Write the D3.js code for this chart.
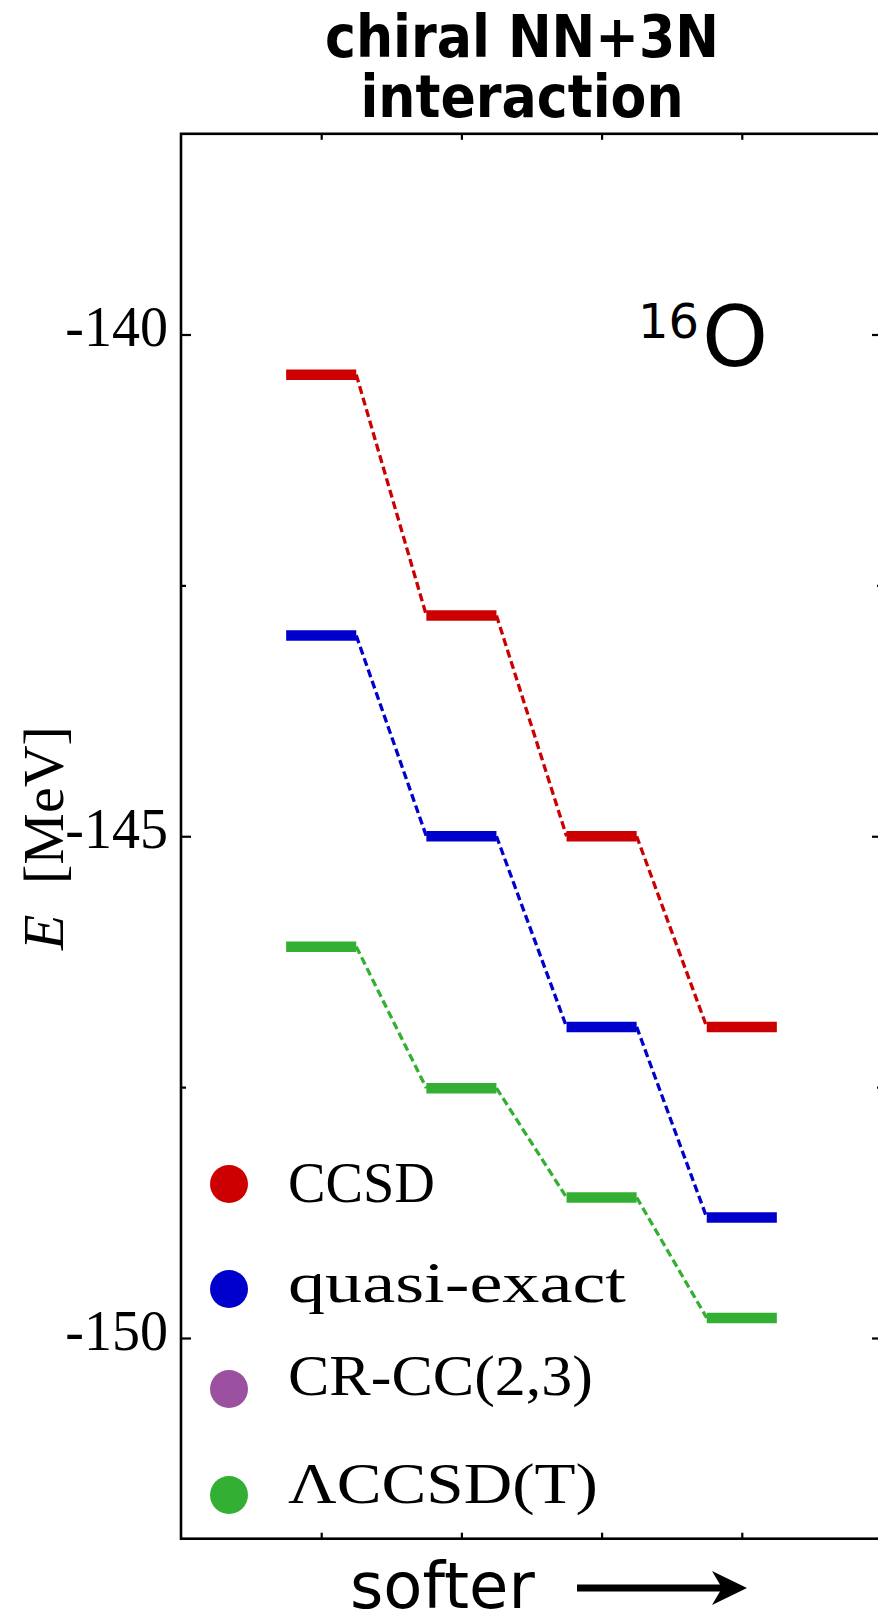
<!DOCTYPE html>
<html>
  <head>
    <title></title>
    <style type="text/css">
        html, body{
            padding: 0px;
            margin: 0px;
            background: #ffffff;
        }
        #vis{
            position: absolute;
            top: 0px;
            left: 0px;
        }
    </style>
  </head>
  <body>
    <div id="vis"></div>
    <script src="https://cdnjs.cloudflare.com/ajax/libs/d3/7.8.5/d3.min.js"></script>
    <script type="text/javascript">

        // data
        var steps = [1, 2, 3, 4]
        var ccsd = [-140.40, -142.80, -145.00, -146.90]
        var quasiExact = [-143.00, -145.00, -146.90, -148.80]
        var lccsdT = [-146.10, -147.51, -148.60, -149.80]

        var majorTicks = [-150, -145, -140]
        var minorTicks = [-147.5, -142.5]

        var seriesNames = ["CCSD", "quasi-exact", "CR-CC(2,3)", "ΛCCSD(T)"]
        var seriesColors = ["#cc0000", "#0000cc", "#9b50a0", "#33b033"]

        var series = [
            {values: ccsd, color: seriesColors[0]},
            {values: quasiExact, color: seriesColors[1]},
            {values: lccsdT, color: seriesColors[3]}
        ]

        var width = 878,
            height = 1615;

        var svg = d3.select("#vis").append("svg")
            .attr("width", width)
            .attr("height", height);

        svg.append("rect")
            .attr("width", width)
            .attr("height", height)
            .attr("fill", "#ffffff");

        var x = d3.scaleLinear().domain([0, 5]).range([181, 882]);
        var y = d3.scaleLinear().domain([-152, -138]).range([1538.7, 133.8]);

        var halfWidth = 0.25;

        // title
        var title = svg.append("text")
            .attr("text-anchor", "middle")
            .attr("font-family", "'DejaVu Sans Condensed', 'DejaVu Sans', sans-serif")
            .attr("font-stretch", "condensed")
            .attr("font-weight", "bold")
            .attr("font-size", 58);
        title.append("tspan").attr("x", 522).attr("y", 57).text("chiral NN+3N");
        title.append("tspan").attr("x", 522).attr("y", 117).text("interaction");

        // axes
        var tickStyle = function(g){
            g.select(".domain").remove();
            g.selectAll("line").attr("stroke", "#000").attr("stroke-width", 2.2);
        }

        svg.append("g")
            .attr("transform", "translate(" + x(0) + ",0)")
            .call(d3.axisLeft(y).tickValues(majorTicks).tickSize(-10).tickPadding(13)
                .tickFormat(function(d){ return String(d); }))
            .call(tickStyle)
            .call(function(g){
                g.selectAll("text")
                    .attr("font-family", "'Liberation Serif', 'Times New Roman', serif")
                    .attr("font-size", 56)
                    .attr("fill", "#000")
                    .attr("dy", "0.2em");
            });

        svg.append("g")
            .attr("transform", "translate(" + x(0) + ",0)")
            .call(d3.axisLeft(y).tickValues(minorTicks).tickSize(-5).tickFormat(""))
            .call(tickStyle);

        svg.append("g")
            .attr("transform", "translate(" + x(5) + ",0)")
            .call(d3.axisRight(y).tickValues(majorTicks).tickSize(-10).tickFormat(""))
            .call(tickStyle);

        svg.append("g")
            .attr("transform", "translate(" + x(5) + ",0)")
            .call(d3.axisRight(y).tickValues(minorTicks).tickSize(-5).tickFormat(""))
            .call(tickStyle);

        svg.append("g")
            .attr("transform", "translate(0," + y(-152) + ")")
            .call(d3.axisBottom(x).tickValues(steps).tickSize(-6).tickFormat(""))
            .call(tickStyle);

        svg.append("g")
            .attr("transform", "translate(0," + y(-138) + ")")
            .call(d3.axisTop(x).tickValues(steps).tickSize(-6).tickFormat(""))
            .call(tickStyle);

        // frame
        svg.append("rect")
            .attr("x", x(0))
            .attr("y", y(-138))
            .attr("width", x(5) - x(0))
            .attr("height", y(-152) - y(-138))
            .attr("fill", "none")
            .attr("stroke", "#000")
            .attr("stroke-width", 2.6);

        // dashed connectors, then levels
        series.forEach(function(s){
            var g = svg.append("g");
            for(var i=0; i<s.values.length-1; i++){
                g.append("line")
                    .attr("x1", x(steps[i] + halfWidth))
                    .attr("y1", y(s.values[i]))
                    .attr("x2", x(steps[i+1] - halfWidth))
                    .attr("y2", y(s.values[i+1]))
                    .attr("stroke", s.color)
                    .attr("stroke-width", 3.3)
                    .attr("stroke-dasharray", "8,4");
            }
            g.selectAll("line.level")
                .data(s.values)
                .enter().append("line")
                .attr("class", "level")
                .attr("x1", function(d, i){ return x(steps[i] - halfWidth); })
                .attr("x2", function(d, i){ return x(steps[i] + halfWidth); })
                .attr("y1", function(d){ return y(d); })
                .attr("y2", function(d){ return y(d); })
                .attr("stroke", s.color)
                .attr("stroke-width", 10.5);
        });

        // nucleus label
        var nuc = svg.append("text")
            .attr("x", 638)
            .attr("y", 338)
            .attr("font-family", "'DejaVu Sans', sans-serif")
            .attr("fill", "#000");
        nuc.append("tspan").attr("font-size", 48).text("16");
        nuc.append("tspan").attr("font-size", 84).attr("dx", 3).attr("dy", 28).text("O");

        // y label
        var ylab = svg.append("text")
            .attr("transform", "translate(63,838) rotate(-90)")
            .attr("text-anchor", "middle")
            .attr("font-family", "'Liberation Serif', 'Times New Roman', serif")
            .attr("font-size", 58)
            .attr("fill", "#000");
        ylab.append("tspan").attr("font-style", "italic").text("E");
        ylab.append("tspan").attr("dx", 16).text(" [MeV]");

        // legend
        var legendY = [1184, 1289, 1389, 1495];
        var legend = svg.append("g");
        legend.selectAll("circle")
            .data(seriesNames)
            .enter().append("circle")
            .attr("cx", 229)
            .attr("cy", function(d, i){ return legendY[i]; })
            .attr("r", 19)
            .attr("fill", function(d, i){ return seriesColors[i]; });

        var legendBase = [1202, 1302, 1395, 1503];
        var legendLen = [147, 338, 305, 310];
        legend.selectAll("text")
            .data(seriesNames)
            .enter().append("text")
            .attr("x", 288)
            .attr("y", function(d, i){ return legendBase[i]; })
            .attr("font-family", "'Liberation Serif', 'Times New Roman', serif")
            .attr("font-size", 56)
            .attr("textLength", function(d, i){ return legendLen[i]; })
            .attr("lengthAdjust", "spacingAndGlyphs")
            .attr("fill", "#000")
            .text(function(d){ return d; });

        // x label with arrow
        svg.append("text")
            .attr("x", 350)
            .attr("y", 1608)
            .attr("font-family", "'DejaVu Sans', sans-serif")
            .attr("font-size", 64)
            .attr("fill", "#000")
            .text("softer");

        svg.append("line")
            .attr("x1", 577).attr("y1", 1588)
            .attr("x2", 722).attr("y2", 1588)
            .attr("stroke", "#000")
            .attr("stroke-width", 7);

        svg.append("path")
            .attr("d", "M747,1588 L712,1571 L722,1588 L712,1605 Z")
            .attr("fill", "#000");

    </script>
  </body>
</html>
